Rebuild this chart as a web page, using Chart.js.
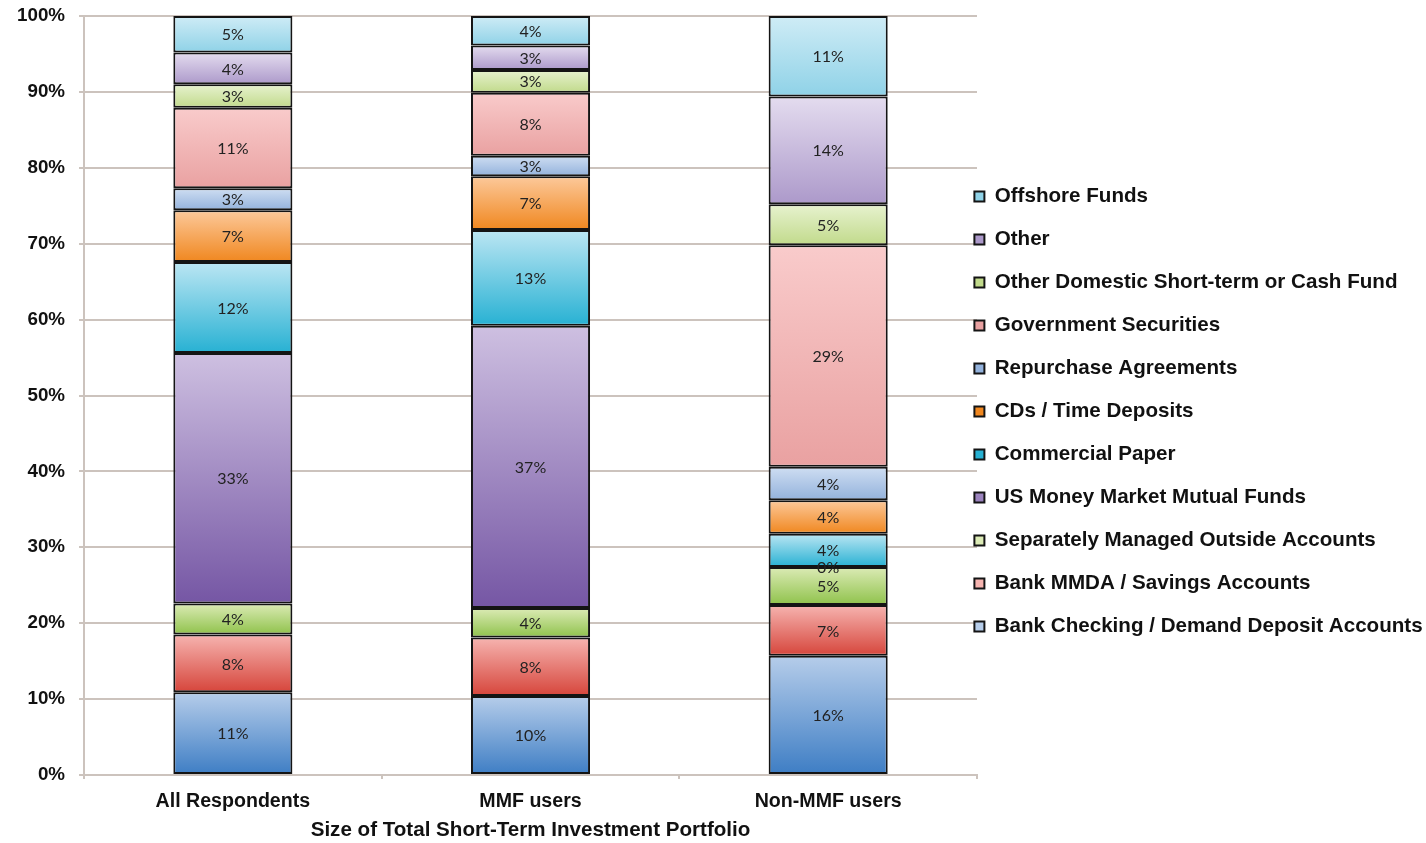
<!DOCTYPE html>
<html>
<head>
<meta charset="utf-8">
<script src="https://cdn.jsdelivr.net/npm/chart.js@4.4.1/dist/chart.umd.min.js"></script>
<style>
  html, body { margin: 0; padding: 0; background: #fff; }
  #wrap { width: 1426px; height: 843px; }
</style>
</head>
<body>
<div id="wrap"><canvas id="portfolio" width="1426" height="843"></canvas></div>
<script>
// Short-term investment mix, stacked to 100%

const categories = ['All Respondents', 'MMF users', 'Non-MMF users'];
const yTicks = [0, 10, 20, 30, 40, 50, 60, 70, 80, 90, 100];

const bankChecking = [10.9, 10.4, 15.7];
const bankMmda = [7.6, 7.7, 6.7];
const separatelyManaged = [4.1, 3.9, 5.0];
const usMoneyMarket = [33.0, 37.2, 0];
const commercialPaper = [12.0, 12.6, 4.4];
const cdsTimeDeposits = [6.8, 7.1, 4.4];
const repurchase = [2.9, 2.7, 4.4];
const govSecurities = [10.6, 8.3, 29.2];
const otherDomestic = [3.1, 3.0, 5.4];
const otherHoldings = [4.2, 3.2, 14.2];
const offshoreFunds = [4.8, 3.9, 10.6];

const seriesNames = [
  'Bank Checking / Demand Deposit Accounts',
  'Bank MMDA / Savings Accounts',
  'Separately Managed Outside Accounts',
  'US Money Market Mutual Funds',
  'Commercial Paper',
  'CDs / Time Deposits',
  'Repurchase Agreements',
  'Government Securities',
  'Other Domestic Short-term or Cash Fund',
  'Other',
  'Offshore Funds',
];

const seriesValues = [
  bankChecking, bankMmda, separatelyManaged, usMoneyMarket, commercialPaper,
  cdsTimeDeposits, repurchase, govSecurities, otherDomestic, otherHoldings, offshoreFunds,
];

// [top (light), bottom (dark)] of each segment's gradient
const palette = [
  ['#b6cdea', '#3d7dc4'],
  ['#f6b4b0', '#d6453b'],
  ['#dcebb6', '#8fc24b'],
  ['#cec0e1', '#7556a4'],
  ['#bce6f3', '#27b1d3'],
  ['#fcc99b', '#f0871f'],
  ['#cfdef2', '#93b2dc'],
  ['#f9cbcb', '#e9a1a1'],
  ['#e7f2cf', '#c1da8b'],
  ['#e4dcef', '#ac99ca'],
  ['#cfecf6', '#8fd2e7'],
];

const gridColor = '#ccc3bd';
const axisFont = "'Liberation Sans', Arial, sans-serif";

function fillFor(i) {
  const [light, dark] = palette[i];
  return (c) => {
    const yScale = c.chart.scales.y;
    if (c.type !== 'data' || !yScale) return dark;
    let base = 0;
    for (let k = 0; k < i; k++) base += seriesValues[k][c.dataIndex];
    const top = yScale.getPixelForValue(base + seriesValues[i][c.dataIndex]);
    const bottom = yScale.getPixelForValue(base);
    if (!Number.isFinite(top) || !Number.isFinite(bottom) || bottom - top < 0.5) return dark;
    const g = c.chart.ctx.createLinearGradient(0, top, 0, bottom);
    g.addColorStop(0, light);
    g.addColorStop(1, dark);
    return g;
  };
}

// percentage text in the middle of each segment
const segmentLabels = {
  id: 'segmentLabels',
  afterDatasetsDraw(chart) {
    const { ctx } = chart;
    ctx.save();
    ctx.font = '16px Lato, sans-serif';
    ctx.fillStyle = '#222';
    ctx.textAlign = 'center';
    ctx.textBaseline = 'middle';
    chart.data.datasets.forEach((ds, i) => {
      chart.getDatasetMeta(i).data.forEach((bar, j) => {
        ctx.fillText(Math.round(ds.data[j]) + '%', bar.x, (bar.y + bar.base) / 2 + 1);
      });
    });
    ctx.restore();
  },
};

// legend sits a little closer to the plot and higher than Chart.js puts it
const legendNudge = {
  id: 'legendNudge',
  afterLayout(chart) {
    const lg = chart.legend;
    lg.left -= 25;
    lg.top -= 10;
    lg.bottom -= 10;
  },
};

const datasets = seriesNames.map((name, i) => ({
  label: name,
  data: seriesValues[i],
  backgroundColor: fillFor(i),
  borderColor: '#141414',
  borderWidth: 2,
  borderSkipped: false,
  categoryPercentage: 1,
  barPercentage: 0.4,
}));

new Chart(document.getElementById('portfolio'), {
  type: 'bar',
  data: { labels: categories, datasets },
  plugins: [segmentLabels, legendNudge],
  options: {
    responsive: false,
    animation: false,
    layout: { padding: { top: 0, left: 3, right: 0, bottom: 0 } },
    scales: {
      x: {
        stacked: true,
        afterFit: (scale) => { scale.paddingLeft = 0; scale.paddingRight = 0; scale.height = 68; },
        grid: { drawOnChartArea: false, drawTicks: true, tickLength: 4, color: gridColor, lineWidth: 2, offset: true },
        border: { color: gridColor, width: 2 },
        ticks: { color: '#111', padding: 11, font: { family: axisFont, size: 19.6, weight: 'bold' } },
        title: {
          display: true,
          text: 'Size of Total Short-Term Investment Portfolio',
          color: '#111',
          font: { family: axisFont, size: 20.6, weight: 'bold' },
          padding: { top: 0, bottom: 0 },
        },
      },
      y: {
        stacked: true,
        min: yTicks[0],
        max: yTicks[yTicks.length - 1],
        afterBuildTicks: (scale) => { scale.ticks = yTicks.map((v) => ({ value: v })); },
        afterFit: (scale) => { scale.paddingTop = 16; scale.paddingBottom = 0; },
        grid: { color: gridColor, lineWidth: 2, tickLength: 5 },
        border: { color: gridColor, width: 2 },
        ticks: {
          color: '#111',
          padding: 14,
          font: { family: axisFont, size: 18.8, weight: 'bold' },
          callback: (v) => v + '%',
        },
      },
    },
    plugins: {
      tooltip: { enabled: false },
      legend: {
        position: 'right',
        reverse: true,
        maxWidth: 449,
        labels: {
          boxWidth: 10,
          boxHeight: 10,
          padding: 22.4,
          color: '#111',
          font: { family: axisFont, size: 20.6, weight: 'bold' },
        },
      },
    },
  },
});
</script>
</body>
</html>
